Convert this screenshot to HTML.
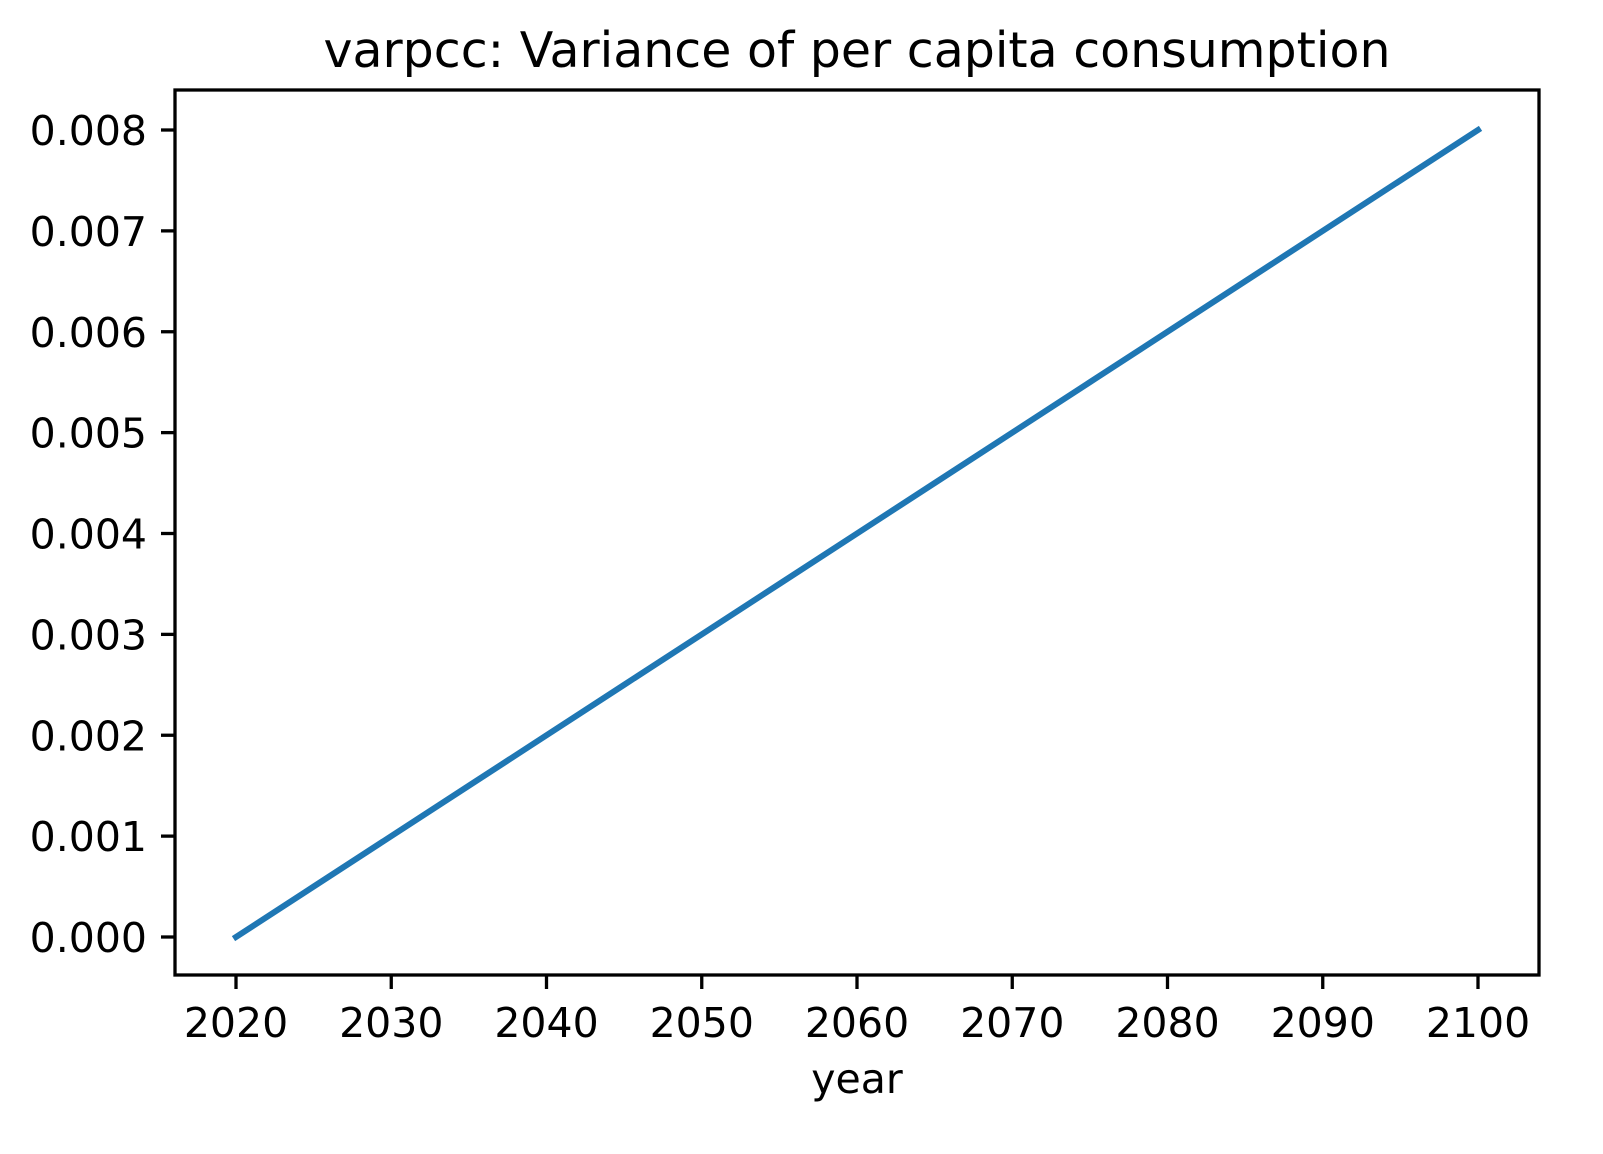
<!DOCTYPE html>
<html><head><meta charset="utf-8"><style>
html,body{margin:0;padding:0;background:#fff;}
svg{display:block;font-family:"DejaVu Sans","Liberation Sans",sans-serif;}
</style></head><body>
<svg id="chart" width="1603" height="1154" viewBox="0 0 1603 1154">
<text x="857" y="67" font-size="49" text-anchor="middle" fill="#000">varpcc: Variance of per capita consumption</text>
<text x="857" y="1093" font-size="41" text-anchor="middle" fill="#000">year</text>
<g id="axes"></g>
<rect x="175" y="90" width="1364" height="885" fill="none" stroke="#000" stroke-width="3.3"/>
</svg>
<script>
const years = [2020,2025,2030,2035,2040,2045,2050,2055,2060,2065,2070,2075,2080,2085,2090,2095,2100];
const values = [0.0,0.0005,0.001,0.0015,0.002,0.0025,0.003,0.0035,0.004,0.0045,0.005,0.0055,0.006,0.0065,0.007,0.0075,0.008];
const xTicks = [2020,2030,2040,2050,2060,2070,2080,2090,2100];
const yTicks = [0,0.001,0.002,0.003,0.004,0.005,0.006,0.007,0.008];
const yTickLabels = ["0.000","0.001","0.002","0.003","0.004","0.005","0.006","0.007","0.008"];

const NS = "http://www.w3.org/2000/svg";
function x(v){ return 236 + (v-2020)*(1478-236)/80; }
function y(v){ return 937 - v*(937-130)/0.008; }
const g = document.getElementById('axes');
function mk(tag, attrs){ const e=document.createElementNS(NS,tag); for(const k in attrs) e.setAttribute(k,attrs[k]); g.appendChild(e); return e; }

xTicks.forEach(t=>{
  const l = mk('line',{x1:x(t),x2:x(t),y1:975,y2:989,stroke:'#000','stroke-width':3.3});
  
  
  const tx = mk('text',{x:x(t),y:1037,'font-size':41,'text-anchor':'middle',fill:'#000'});
  tx.textContent = t;
  
  
});
yTicks.forEach((t,i)=>{
  const l = mk('line',{x1:161,x2:175,y1:y(t),y2:y(t),stroke:'#000','stroke-width':3.3});
  
  
  const tx = mk('text',{x:147,y:y(t)+15,'font-size':41,'text-anchor':'end',fill:'#000'});
  tx.textContent = yTickLabels[i];
  
  
});
const pts = years.map((yr,i)=>x(yr)+','+y(values[i])).join(' ');
const line = mk('polyline',{points:pts,fill:'none',stroke:'#1f77b4','stroke-width':6,'stroke-linecap':'square'});


</script>
</body></html>
